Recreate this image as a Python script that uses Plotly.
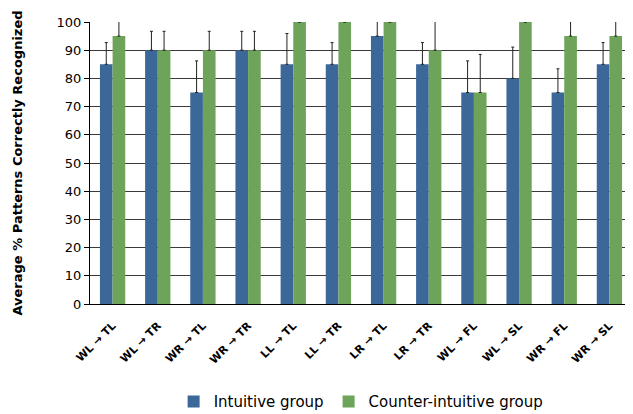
import plotly.graph_objects as go

categories = ["WL → TL", "WL → TR", "WR → TL", "WR → TR", "LL → TL", "LL → TR",
              "LR → TL", "LR → TR", "WL → FL", "WL → SL", "WR → FL", "WR → SL"]
intuitive = [85, 90, 75, 90, 85, 85, 95, 85, 75, 80, 75, 85]
intuitive_err = [7.7, 6.7, 11.2, 6.7, 10.9, 7.7, 7.7, 7.7, 11.2, 11.1, 8.4, 7.7]
counter = [95, 90, 90, 90, 100, 100, 100, 90, 75, 100, 95, 95]
counter_err = [7.7, 6.7, 6.7, 6.7, 0, 0, 0, 12, 13.5, 0, 7.7, 7.7]
yticks = list(range(0, 101, 10))

blue = "#3B6899"
green = "#6DA45A"

fig = go.Figure()
fig.add_trace(go.Bar(
    x=categories, y=intuitive, name="Intuitive group",
    marker=dict(color=blue, line=dict(width=0)),
    error_y=dict(type="data", array=intuitive_err, symmetric=False, arrayminus=[0]*12,
                 color="#222222", thickness=1, width=1.5),
))
fig.add_trace(go.Bar(
    x=categories, y=counter, name="Counter-intuitive group",
    marker=dict(color=green, line=dict(width=0)),
    error_y=dict(type="data", array=counter_err, symmetric=False, arrayminus=[0]*12,
                 color="#222222", thickness=1, width=1.5),
))

# page body has an 8px default margin; figure is sized to fit the 633x414 window
fig.update_layout(
    width=625, height=406,
    margin=dict(l=82, r=1, t=14, b=110, autoexpand=False),
    paper_bgcolor="white", plot_bgcolor="white",
    barmode="group", bargap=0.44, bargroupgap=0,
    font=dict(family="DejaVu Sans", color="#000000"),
    showlegend=True,
    legend=dict(orientation="h", x=0.565, xanchor="center", xref="container",
                y=0.03, yanchor="middle", yref="container",
                font=dict(size=15, family="DejaVu Sans"), itemwidth=30,
                tracegroupgap=0, traceorder="normal"),
    xaxis=dict(tickangle=-45, tickfont=dict(size=11, family="DejaVu Sans", weight="bold"),
               showline=True, linecolor="#000000", linewidth=1,
               ticks="outside", ticklen=10, tickcolor="rgba(0,0,0,0)",
               showgrid=False, automargin=False),
    yaxis=dict(range=[0, 100], tickvals=yticks, tickfont=dict(size=13),
               showgrid=True, gridcolor="#3a3a3a", gridwidth=1,
               showline=True, linecolor="#000000", linewidth=1,
               ticks="outside", ticklen=5, tickcolor="#000000",
               zeroline=False, automargin=False,
               title=dict(text="Average % Patterns Correctly Recognized",
                          font=dict(size=13, weight="bold"), standoff=31)),
)

fig.write_html("out.html")
